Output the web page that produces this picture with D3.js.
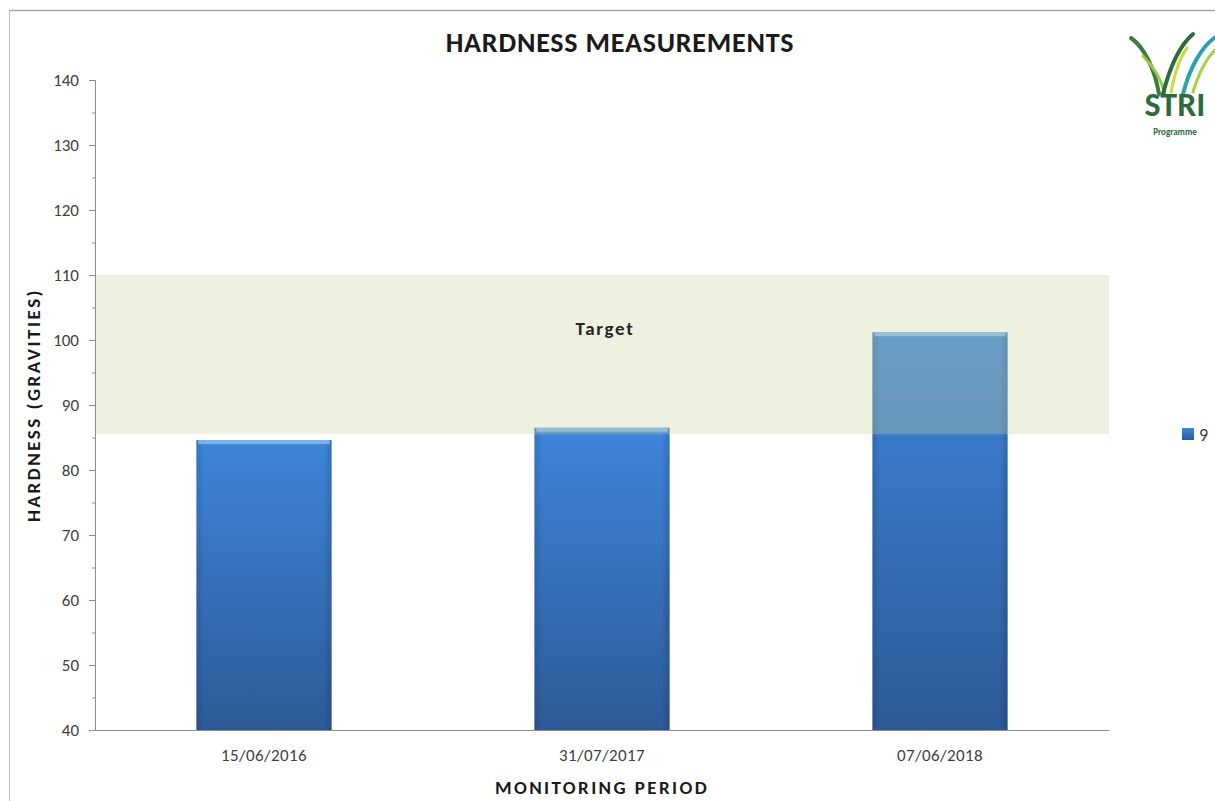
<!DOCTYPE html>
<html>
<head>
<meta charset="utf-8">
<script src="https://cdn.jsdelivr.net/npm/d3@7"></script>
<style>
  body { margin: 0; background: #fff; }
  svg text { font-family: Calibri, Carlito, Lato, sans-serif; }
</style>
</head>
<body>
<div id="chart"></div>
<script>
// data
const dates = ["15/06/2016", "31/07/2017", "07/06/2018"];
const hardness = [84.6, 86.5, 101.2];
const targetRange = [85.5, 110];
const yTicks = [40, 50, 60, 70, 80, 90, 100, 110, 120, 130, 140];
const seriesName = "9";

const W = 1215, H = 801;
const margin = {top: 80, right: 106, bottom: 71, left: 95};
const width = W - margin.left - margin.right;
const height = H - margin.top - margin.bottom;

const svg = d3.select("#chart").append("svg")
  .attr("width", W).attr("height", H);

// frame lines
svg.append("line").attr("x1", 9).attr("x2", W).attr("y1", 10.5).attr("y2", 10.5)
  .attr("stroke", "#a6a6a6").attr("stroke-width", 1.5);
svg.append("line").attr("x1", 9.5).attr("x2", 9.5).attr("y1", 10).attr("y2", H)
  .attr("stroke", "#bfbfbf").attr("stroke-width", 1);

const defs = svg.append("defs");
const grad = defs.append("linearGradient").attr("id", "barGrad")
  .attr("x1", 0).attr("x2", 0).attr("y1", 0).attr("y2", 1);
grad.append("stop").attr("offset", "0%").attr("stop-color", "#3e85da");
grad.append("stop").attr("offset", "100%").attr("stop-color", "#2d5a98");

const hgrad = defs.append("linearGradient").attr("id", "sideGrad")
  .attr("x1", 0).attr("x2", 1).attr("y1", 0).attr("y2", 0);
hgrad.append("stop").attr("offset", "0%").attr("stop-color", "#000").attr("stop-opacity", 0.12);
hgrad.append("stop").attr("offset", "6%").attr("stop-color", "#000").attr("stop-opacity", 0);
hgrad.append("stop").attr("offset", "94%").attr("stop-color", "#000").attr("stop-opacity", 0);
hgrad.append("stop").attr("offset", "100%").attr("stop-color", "#000").attr("stop-opacity", 0.15);

const g = svg.append("g").attr("transform", `translate(${margin.left},${margin.top})`);

const x = d3.scaleBand().domain(dates).range([0, width]).paddingInner(0.6).paddingOuter(0.3);
const y = d3.scaleLinear().domain([40, 140]).range([height, 0]);

// bars
const bars = g.append("g").selectAll("g").data(hardness).join("g");
bars.append("rect")
  .attr("x", (d, i) => x(dates[i]))
  .attr("y", d => y(d))
  .attr("width", x.bandwidth())
  .attr("height", d => y(40) - y(d))
  .attr("fill", "url(#barGrad)");
bars.append("rect")
  .attr("x", (d, i) => x(dates[i]))
  .attr("y", d => y(d))
  .attr("width", x.bandwidth())
  .attr("height", d => y(40) - y(d))
  .attr("fill", "url(#sideGrad)");
bars.append("rect")
  .attr("x", (d, i) => x(dates[i]) + 2)
  .attr("y", d => y(d))
  .attr("width", x.bandwidth() - 4)
  .attr("height", 4)
  .attr("fill", "#8cc0ee").attr("opacity", 0.8);

// target band (translucent, over the bars)
g.append("rect")
  .attr("x", 0)
  .attr("y", y(targetRange[1]))
  .attr("width", width)
  .attr("height", y(targetRange[0]) - y(targetRange[1]))
  .attr("fill", "rgb(202,211,158)")
  .attr("opacity", 0.32);

g.append("text")
  .attr("x", x(dates[1]) + x.bandwidth() / 2 + 3)
  .attr("y", y(100.8))
  .attr("text-anchor", "middle")
  .attr("font-size", 19).attr("font-weight", "bold").attr("fill", "#262626")
  .attr("letter-spacing", 1.7)
  .text("Target");

// y axis
const yAxis = g.append("g")
  .call(d3.axisLeft(y).tickValues(yTicks).tickSize(6).tickPadding(10));
yAxis.select(".domain").attr("stroke", "#8c8c8c");
yAxis.selectAll(".tick line").attr("stroke", "#8c8c8c");
yAxis.selectAll(".tick text").attr("font-size", 17).attr("fill", "#404040");
// minor ticks
g.append("g").selectAll("line").data(d3.range(45, 140, 10)).join("line")
  .attr("x1", -3).attr("x2", 0)
  .attr("y1", d => y(d) + 0.5).attr("y2", d => y(d) + 0.5)
  .attr("stroke", "#8c8c8c");

// x axis
const xAxis = g.append("g").attr("transform", `translate(0,${height})`)
  .call(d3.axisBottom(x).tickSize(0).tickPadding(19));
xAxis.select(".domain").attr("stroke", "#8c8c8c");
xAxis.selectAll(".tick text").attr("font-size", 17).attr("fill", "#404040")
  .attr("letter-spacing", 0.4);

// titles
svg.append("text")
  .attr("x", 620).attr("y", 52)
  .attr("text-anchor", "middle")
  .attr("font-size", 28).attr("font-weight", "bold").attr("fill", "#1a1a1a")
  .attr("letter-spacing", 0.8)
  .text("HARDNESS MEASUREMENTS");

svg.append("text")
  .attr("transform", `translate(40,${margin.top + height / 2}) rotate(-90)`)
  .attr("text-anchor", "middle")
  .attr("font-size", 19).attr("font-weight", "bold").attr("fill", "#1a1a1a")
  .attr("letter-spacing", 2.5)
  .text("HARDNESS (GRAVITIES)");

svg.append("text")
  .attr("x", margin.left + x(dates[1]) + x.bandwidth() / 2)
  .attr("y", 794)
  .attr("text-anchor", "middle")
  .attr("font-size", 19).attr("font-weight", "bold").attr("fill", "#1a1a1a")
  .attr("letter-spacing", 2.4)
  .text("MONITORING PERIOD");

// legend
svg.append("rect").attr("x", 1182).attr("y", 428).attr("width", 12).attr("height", 12)
  .attr("fill", "url(#barGrad)");
svg.append("text").attr("x", 1199).attr("y", 441)
  .attr("font-size", 18).attr("fill", "#404040").text(seriesName);

// logo
const logo = svg.append("g").attr("transform", "translate(1125,22)");
const blades = [
  {d: "M6,16 C20,26 30,48 34,72", c: "#3a7d44", w: 4},
  {d: "M18,34 C28,44 36,56 40,72", c: "#9ccc3c", w: 3},
  {d: "M38,72 C44,48 54,24 68,12", c: "#2e6b3c", w: 4},
  {d: "M46,70 C50,50 56,34 62,26", c: "#c8dc3c", w: 3},
  {d: "M58,72 C64,48 76,24 92,14", c: "#2aa0b8", w: 4},
  {d: "M68,70 C74,50 82,36 90,28", c: "#a8d040", w: 3}
];
logo.selectAll("path").data(blades).join("path")
  .attr("d", d => d.d).attr("fill", "none")
  .attr("stroke", d => d.c).attr("stroke-width", d => d.w)
  .attr("stroke-linecap", "round");
logo.append("text").attr("x", 50).attr("y", 94).attr("text-anchor", "middle")
  .attr("font-size", 34).attr("font-weight", "bold").attr("fill", "#2e6b3c")
  .text("STRI");
logo.append("text").attr("x", 50).attr("y", 113).attr("text-anchor", "middle")
  .attr("font-size", 9).attr("font-weight", "bold").attr("fill", "#2e6b3c")
  .text("Programme");
</script>
</body>
</html>
